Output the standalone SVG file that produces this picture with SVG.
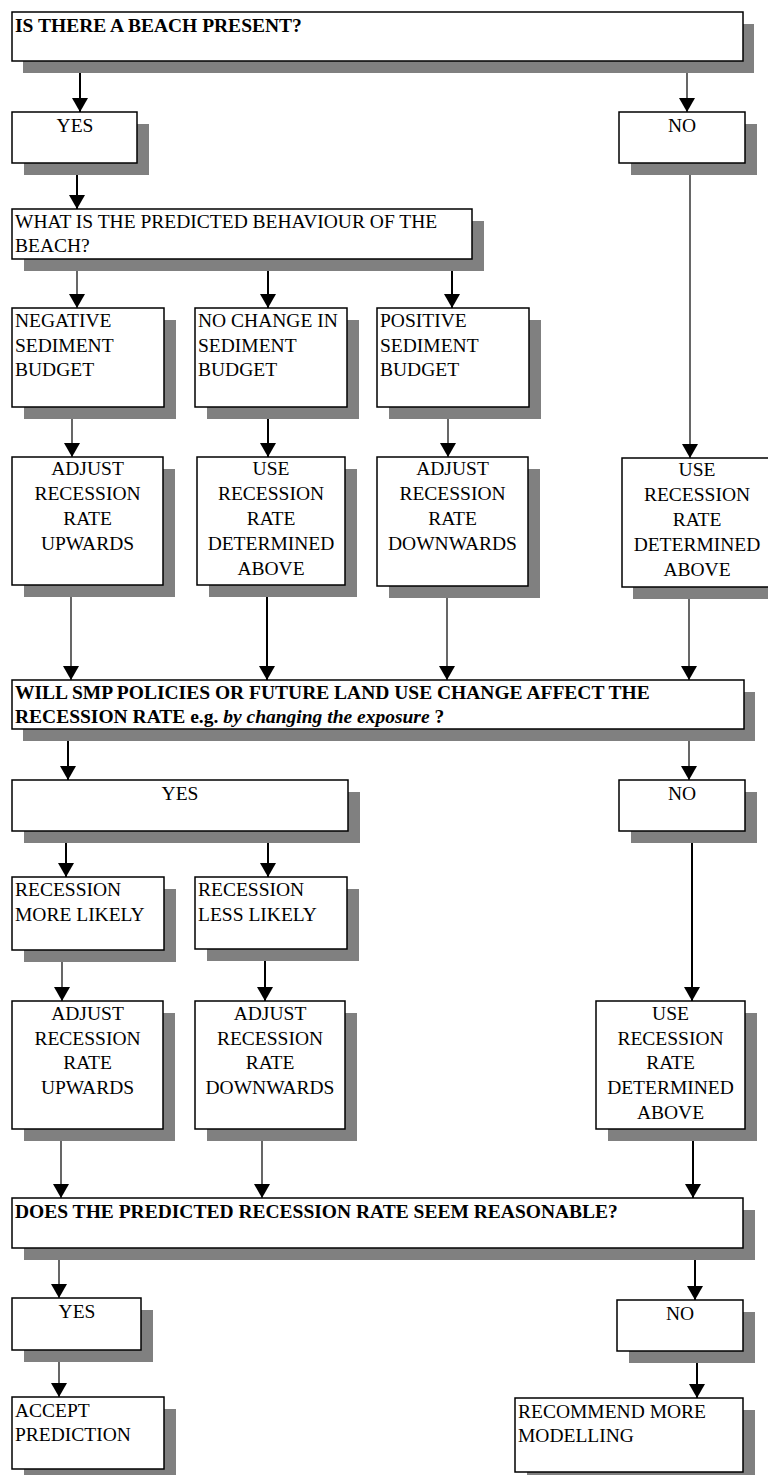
<svg xmlns="http://www.w3.org/2000/svg" width="768" height="1475" viewBox="0 0 768 1475">
<style>
.sh{fill:#808080}
.bx{fill:#fff;stroke:#000;stroke-width:1.5}
.t{font-family:"Liberation Serif","Times New Roman",serif;font-size:19.5px;fill:#000}
.b{font-weight:bold}
.c{text-anchor:middle}
.k{stroke:#000;stroke-width:2;fill:none}
.n{stroke:#000;stroke-width:1.2;fill:none}
</style>
<defs>
<marker id="ah" markerUnits="userSpaceOnUse" markerWidth="14" markerHeight="16" refX="14" refY="8" orient="auto">
<path d="M0,0 L14,8 L0,16 Z" fill="#000"/>
</marker>
</defs>
<rect width="768" height="1475" fill="#fff"/>

<g id="connectors">
<line class="k" x1="80" y1="61" x2="80" y2="112" marker-end="url(#ah)"/>
<line class="n" x1="687" y1="61" x2="687" y2="112" marker-end="url(#ah)"/>
<line class="k" x1="77" y1="163" x2="77" y2="209" marker-end="url(#ah)"/>
<line class="n" x1="77" y1="259" x2="77" y2="308" marker-end="url(#ah)"/>
<line class="k" x1="268" y1="259" x2="268" y2="308" marker-end="url(#ah)"/>
<line class="k" x1="452" y1="259" x2="452" y2="308" marker-end="url(#ah)"/>
<line class="n" x1="690" y1="163" x2="690" y2="458" marker-end="url(#ah)"/>
<line class="n" x1="72" y1="407" x2="72" y2="457" marker-end="url(#ah)"/>
<line class="k" x1="268" y1="407" x2="268" y2="457" marker-end="url(#ah)"/>
<line class="n" x1="448" y1="407" x2="448" y2="457" marker-end="url(#ah)"/>
<line class="n" x1="71" y1="585" x2="71" y2="680" marker-end="url(#ah)"/>
<line class="k" x1="267" y1="585" x2="267" y2="680" marker-end="url(#ah)"/>
<line class="n" x1="447" y1="586" x2="447" y2="680" marker-end="url(#ah)"/>
<line class="n" x1="689" y1="587" x2="689" y2="680" marker-end="url(#ah)"/>
<line class="k" x1="68" y1="729" x2="68" y2="780" marker-end="url(#ah)"/>
<line class="n" x1="689" y1="729" x2="689" y2="780" marker-end="url(#ah)"/>
<line class="k" x1="66" y1="831" x2="66" y2="877" marker-end="url(#ah)"/>
<line class="k" x1="268" y1="831" x2="268" y2="877" marker-end="url(#ah)"/>
<line class="k" x1="692" y1="831" x2="692" y2="1001" marker-end="url(#ah)"/>
<line class="n" x1="62" y1="950" x2="62" y2="1001" marker-end="url(#ah)"/>
<line class="k" x1="265" y1="949" x2="265" y2="1001" marker-end="url(#ah)"/>
<line class="n" x1="61" y1="1129" x2="61" y2="1198" marker-end="url(#ah)"/>
<line class="n" x1="262" y1="1129" x2="262" y2="1198" marker-end="url(#ah)"/>
<line class="k" x1="693" y1="1129" x2="693" y2="1198" marker-end="url(#ah)"/>
<line class="n" x1="59" y1="1248" x2="59" y2="1298" marker-end="url(#ah)"/>
<line class="k" x1="695" y1="1248" x2="695" y2="1300" marker-end="url(#ah)"/>
<line class="n" x1="59" y1="1350" x2="59" y2="1397" marker-end="url(#ah)"/>
<line class="k" x1="697" y1="1351" x2="697" y2="1398" marker-end="url(#ah)"/>
</g>

<g id="q-beach">
<rect class="sh" x="23" y="24" width="731" height="49"/>
<rect class="bx" x="12" y="12" width="731" height="49"/>
<text class="t b" x="15" y="32">IS THERE A BEACH PRESENT?</text>
</g>
<g id="beach-yes">
<rect class="sh" x="24" y="124" width="125" height="51"/>
<rect class="bx" x="12" y="112" width="125" height="51"/>
<text class="t c" x="75" y="132">YES</text>
</g>
<g id="beach-no">
<rect class="sh" x="631" y="124" width="126" height="51"/>
<rect class="bx" x="619" y="112" width="126" height="51"/>
<text class="t c" x="682" y="132">NO</text>
</g>
<g id="q-behaviour">
<rect class="sh" x="24" y="221" width="460" height="50"/>
<rect class="bx" x="12" y="209" width="460" height="50"/>
<text class="t" x="15" y="228">WHAT IS THE PREDICTED BEHAVIOUR OF THE</text>
<text class="t" x="15" y="252">BEACH?</text>
</g>
<g id="negative">
<rect class="sh" x="24" y="320" width="152" height="99"/>
<rect class="bx" x="12" y="308" width="152" height="99"/>
<text class="t" x="15" y="327">NEGATIVE</text>
<text class="t" x="15" y="351.5">SEDIMENT</text>
<text class="t" x="15" y="376">BUDGET</text>
</g>
<g id="nochange">
<rect class="sh" x="207" y="320" width="152" height="99"/>
<rect class="bx" x="195" y="308" width="152" height="99"/>
<text class="t" x="198" y="327">NO CHANGE IN</text>
<text class="t" x="198" y="351.5">SEDIMENT</text>
<text class="t" x="198" y="376">BUDGET</text>
</g>
<g id="positive">
<rect class="sh" x="389" y="320" width="152" height="99"/>
<rect class="bx" x="377" y="308" width="152" height="99"/>
<text class="t" x="380" y="327">POSITIVE</text>
<text class="t" x="380" y="351.5">SEDIMENT</text>
<text class="t" x="380" y="376">BUDGET</text>
</g>
<g id="adjust-up-1">
<rect class="sh" x="24" y="469" width="151" height="128"/>
<rect class="bx" x="12" y="457" width="151" height="128"/>
<text class="t c" x="87.5" y="475">ADJUST</text>
<text class="t c" x="87.5" y="500">RECESSION</text>
<text class="t c" x="87.5" y="525">RATE</text>
<text class="t c" x="87.5" y="550">UPWARDS</text>
</g>
<g id="use-1">
<rect class="sh" x="209" y="469" width="148" height="128"/>
<rect class="bx" x="197" y="457" width="148" height="128"/>
<text class="t c" x="271" y="475">USE</text>
<text class="t c" x="271" y="500">RECESSION</text>
<text class="t c" x="271" y="525">RATE</text>
<text class="t c" x="271" y="550">DETERMINED</text>
<text class="t c" x="271" y="575">ABOVE</text>
</g>
<g id="adjust-down-1">
<rect class="sh" x="389" y="469" width="151" height="129"/>
<rect class="bx" x="377" y="457" width="151" height="129"/>
<text class="t c" x="452.5" y="475">ADJUST</text>
<text class="t c" x="452.5" y="500">RECESSION</text>
<text class="t c" x="452.5" y="525">RATE</text>
<text class="t c" x="452.5" y="550">DOWNWARDS</text>
</g>
<g id="use-1r">
<rect class="sh" x="633" y="470" width="150" height="129"/>
<rect class="bx" x="622" y="458" width="150" height="129"/>
<text class="t c" x="697" y="476">USE</text>
<text class="t c" x="697" y="501">RECESSION</text>
<text class="t c" x="697" y="526">RATE</text>
<text class="t c" x="697" y="551">DETERMINED</text>
<text class="t c" x="697" y="576">ABOVE</text>
</g>
<g id="q-smp">
<rect class="sh" x="23" y="692" width="732" height="49"/>
<rect class="bx" x="12" y="680" width="732" height="49"/>
<text class="t b" x="15" y="699">WILL SMP POLICIES OR FUTURE LAND USE CHANGE AFFECT THE</text>
<text class="t b" x="15" y="723">RECESSION RATE e.g. <tspan font-style="italic">by changing the exposure</tspan> ?</text>
</g>
<g id="smp-yes">
<rect class="sh" x="24" y="792" width="336" height="51"/>
<rect class="bx" x="12" y="780" width="336" height="51"/>
<text class="t c" x="180" y="800">YES</text>
</g>
<g id="smp-no">
<rect class="sh" x="631" y="792" width="126" height="51"/>
<rect class="bx" x="619" y="780" width="126" height="51"/>
<text class="t c" x="682" y="800">NO</text>
</g>
<g id="more-likely">
<rect class="sh" x="24" y="889" width="152" height="73"/>
<rect class="bx" x="12" y="877" width="152" height="73"/>
<text class="t" x="15" y="896">RECESSION</text>
<text class="t" x="15" y="921">MORE LIKELY</text>
</g>
<g id="less-likely">
<rect class="sh" x="207" y="889" width="152" height="72"/>
<rect class="bx" x="195" y="877" width="152" height="72"/>
<text class="t" x="198" y="896">RECESSION</text>
<text class="t" x="198" y="921">LESS LIKELY</text>
</g>
<g id="adjust-up-2">
<rect class="sh" x="24" y="1013" width="151" height="128"/>
<rect class="bx" x="12" y="1001" width="151" height="128"/>
<text class="t c" x="87.5" y="1020">ADJUST</text>
<text class="t c" x="87.5" y="1045">RECESSION</text>
<text class="t c" x="87.5" y="1069">RATE</text>
<text class="t c" x="87.5" y="1094">UPWARDS</text>
</g>
<g id="adjust-down-2">
<rect class="sh" x="207" y="1013" width="150" height="128"/>
<rect class="bx" x="195" y="1001" width="150" height="128"/>
<text class="t c" x="270" y="1020">ADJUST</text>
<text class="t c" x="270" y="1045">RECESSION</text>
<text class="t c" x="270" y="1069">RATE</text>
<text class="t c" x="270" y="1094">DOWNWARDS</text>
</g>
<g id="use-2">
<rect class="sh" x="608" y="1013" width="149" height="128"/>
<rect class="bx" x="596" y="1001" width="149" height="128"/>
<text class="t c" x="670.5" y="1020">USE</text>
<text class="t c" x="670.5" y="1045">RECESSION</text>
<text class="t c" x="670.5" y="1069">RATE</text>
<text class="t c" x="670.5" y="1094">DETERMINED</text>
<text class="t c" x="670.5" y="1119">ABOVE</text>
</g>
<g id="q-reasonable">
<rect class="sh" x="24" y="1210" width="731" height="50"/>
<rect class="bx" x="12" y="1198" width="731" height="50"/>
<text class="t b" x="15" y="1218">DOES THE PREDICTED RECESSION RATE SEEM REASONABLE?</text>
</g>
<g id="reasonable-yes">
<rect class="sh" x="24" y="1310" width="129" height="52"/>
<rect class="bx" x="12" y="1298" width="129" height="52"/>
<text class="t c" x="77" y="1318">YES</text>
</g>
<g id="reasonable-no">
<rect class="sh" x="629" y="1312" width="126" height="51"/>
<rect class="bx" x="617" y="1300" width="126" height="51"/>
<text class="t c" x="680" y="1320">NO</text>
</g>
<g id="accept">
<rect class="sh" x="24" y="1409" width="152" height="72"/>
<rect class="bx" x="12" y="1397" width="152" height="72"/>
<text class="t" x="15" y="1417">ACCEPT</text>
<text class="t" x="15" y="1441">PREDICTION</text>
</g>
<g id="recommend">
<rect class="sh" x="527" y="1410" width="228" height="74"/>
<rect class="bx" x="515" y="1398" width="228" height="74"/>
<text class="t" x="518" y="1418">RECOMMEND MORE</text>
<text class="t" x="518" y="1442">MODELLING</text>
</g>
</svg>
